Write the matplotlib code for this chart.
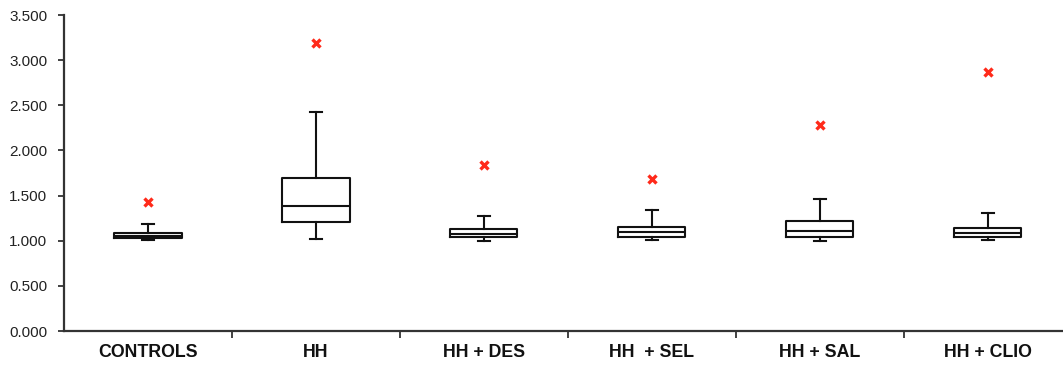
import matplotlib
matplotlib.use('Agg')
import matplotlib.pyplot as plt

plt.rcParams['font.family'] = ['Liberation Sans', 'DejaVu Sans']

# 組別與箱形圖數值
groups = ['CONTROLS', 'HH', 'HH + DES', 'HH  + SEL', 'HH + SAL', 'HH + CLIO']
whisker_low = [1.01, 1.015, 1.00, 1.01, 1.00, 1.01]
q1 = [1.03, 1.21, 1.04, 1.04, 1.04, 1.04]
median = [1.05, 1.38, 1.08, 1.10, 1.11, 1.09]
q3 = [1.09, 1.69, 1.126, 1.155, 1.22, 1.137]
whisker_high = [1.19, 2.43, 1.27, 1.34, 1.465, 1.31]
outliers = [1.43, 3.19, 1.84, 1.68, 2.28, 2.87]
yticks = [0.0, 0.5, 1.0, 1.5, 2.0, 2.5, 3.0, 3.5]

stats = []
for i, g in enumerate(groups):
    stats.append({
        'label': g,
        'whislo': whisker_low[i],
        'q1': q1[i],
        'med': median[i],
        'q3': q3[i],
        'whishi': whisker_high[i],
        'fliers': [outliers[i]],
    })

fig = plt.figure(figsize=(10.63, 3.66), dpi=100)
ax = fig.add_axes([0.0602, 0.0956, 0.948, 0.8634])

line_style = dict(color='#111111', linewidth=1.5)
ax.bxp(stats, positions=range(len(groups)), widths=0.4, capwidths=0.07,
       boxprops=line_style, whiskerprops=line_style, capprops=line_style,
       medianprops=line_style,
       flierprops=dict(marker='x', markeredgecolor='#ff2a1a', markersize=6,
                       markeredgewidth=2.4))

ax.set_xlim(-0.5, len(groups) - 0.5)
ax.set_ylim(0, 3.5)
ax.set_yticks(yticks)
ax.set_yticklabels([f'{v:.3f}' for v in yticks], fontsize=11, color='#222222')

# 分類標籤置於中間, 刻度置於分界
ax.set_xticks([i + 0.5 for i in range(len(groups) - 1)])
ax.set_xticklabels([])
ax.set_xticks(range(len(groups)), minor=True)
ax.set_xticklabels(groups, minor=True, fontsize=12.8, fontweight='bold', color='#111111')
ax.tick_params(axis='x', which='minor', length=0, pad=9)
ax.tick_params(axis='x', which='major', length=5, width=1.3, color='#333333')
ax.tick_params(axis='y', length=4, width=1.3, color='#333333', pad=8)

for s in ['top', 'right']:
    ax.spines[s].set_visible(False)
for s in ['left', 'bottom']:
    ax.spines[s].set_linewidth(1.6)
    ax.spines[s].set_color('#333333')

fig.savefig('out.png', dpi=100)
